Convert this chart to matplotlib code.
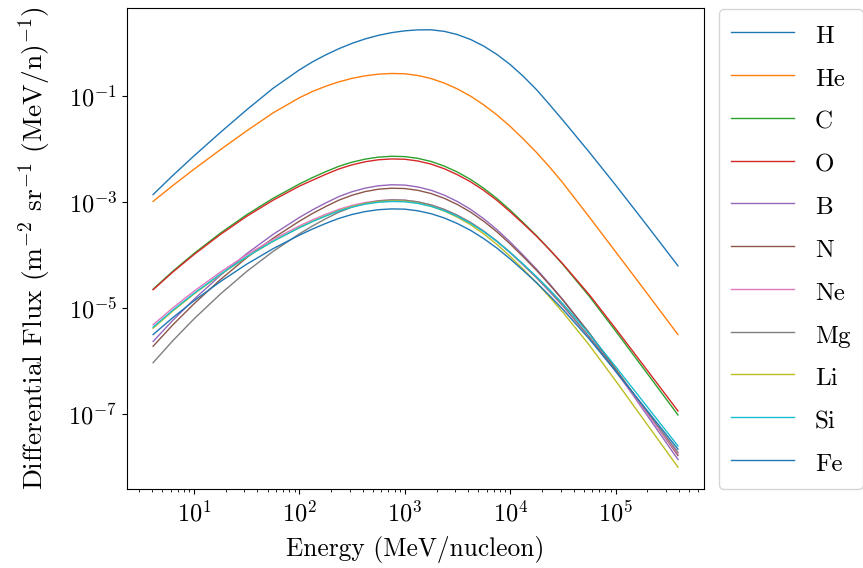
import numpy as np
import matplotlib
matplotlib.use("Agg")
import matplotlib.pyplot as plt
from matplotlib.ticker import FixedLocator, NullLocator, FuncFormatter

plt.rcParams["font.family"] = "serif"
plt.rcParams["font.serif"] = ["cmr10"]
plt.rcParams["mathtext.fontset"] = "cm"
plt.rcParams["axes.formatter.use_mathtext"] = True

# Kinetic energy grid (MeV/nucleon)
energy = [4.1, 6.31, 10, 17.8, 31.6, 56.2, 100, 133, 178, 237, 316, 422, 562, 750,
          1000, 1330, 1780, 2370, 3160, 4220, 5620, 7500, 1.0e4, 1.33e4, 1.78e4,
          2.37e4, 3.16e4, 5.62e4, 1.0e5, 2.0e5, 3.9e5]

# Differential flux, stored as decimal exponents (log10 of m^-2 sr^-1 (MeV/n)^-1)
log_H = [-2.86, -2.50, -2.133, -1.690, -1.264, -0.8585, -0.510, -0.360, -0.227, -0.111,
         -0.010, 0.074, 0.141, 0.192, 0.226, 0.244, 0.245, 0.216, 0.155, 0.062, -0.063,
         -0.221, -0.410, -0.631, -0.885, -1.168, -1.460, -2.061, -2.683, -3.452, -4.204]
log_He = [-2.99, -2.690, -2.384, -2.015, -1.661, -1.322, -1.036, -0.918, -0.818, -0.736,
          -0.670, -0.622, -0.591, -0.578, -0.584, -0.616, -0.674, -0.759, -0.870, -1.007,
          -1.171, -1.361, -1.576, -1.812, -2.069, -2.345, -2.641, -3.284, -3.940, -4.731, -5.500]
log_C = [-4.645, -4.306, -3.973, -3.589, -3.242, -2.933, -2.662, -2.541, -2.429, -2.328,
         -2.250, -2.192, -2.155, -2.139, -2.145, -2.178, -2.237, -2.324, -2.437, -2.577,
         -2.743, -2.937, -3.156, -3.390, -3.638, -3.902, -4.179, -4.778, -5.433, -6.237, -7.015]
log_O = [-4.655, -4.321, -3.993, -3.614, -3.272, -2.968, -2.702, -2.591, -2.479, -2.378,
         -2.300, -2.242, -2.205, -2.189, -2.195, -2.228, -2.287, -2.374, -2.487, -2.622,
         -2.783, -2.972, -3.186, -3.410, -3.648, -3.902, -4.169, -4.748, -5.388, -6.177, -6.940]
log_B = [-5.630, -5.231, -4.837, -4.385, -3.976, -3.612, -3.293, -3.150, -3.018, -2.899,
         -2.807, -2.739, -2.695, -2.676, -2.682, -2.717, -2.780, -2.872, -2.993, -3.141,
         -3.318, -3.524, -3.756, -4.005, -4.269, -4.549, -4.843, -5.480, -6.175, -7.029, -7.855]
log_N = [-5.720, -5.317, -4.921, -4.465, -4.052, -3.685, -3.363, -3.219, -3.086, -2.966,
         -2.873, -2.804, -2.760, -2.741, -2.747, -2.781, -2.842, -2.932, -3.049, -3.193,
         -3.366, -3.566, -3.792, -4.034, -4.291, -4.563, -4.850, -5.469, -6.146, -6.977, -7.780]
log_Ne = [-5.315, -4.997, -4.683, -4.323, -3.997, -3.707, -3.452, -3.338, -3.233, -3.139,
          -3.065, -3.011, -2.976, -2.961, -2.967, -2.999, -3.057, -3.142, -3.254, -3.391,
          -3.554, -3.745, -3.960, -4.190, -4.434, -4.693, -4.965, -5.554, -6.197, -6.987, -7.750]
log_Mg = [-6.030, -5.615, -5.206, -4.737, -4.312, -3.934, -3.602, -3.453, -3.316, -3.193,
          -3.097, -3.026, -2.981, -2.961, -2.967, -2.999, -3.057, -3.141, -3.252, -3.388,
          -3.551, -3.740, -3.953, -4.182, -4.425, -4.682, -4.953, -5.538, -6.176, -6.961, -7.720]
log_Li = [-5.380, -5.056, -4.736, -4.369, -4.037, -3.741, -3.482, -3.366, -3.259, -3.162,
          -3.087, -3.032, -2.996, -2.981, -2.987, -3.021, -3.082, -3.171, -3.288, -3.431,
          -3.603, -3.802, -4.028, -4.269, -4.525, -4.796, -5.081, -5.698, -6.372, -7.200, -8.000]
log_Si = [-5.360, -5.040, -4.724, -4.362, -4.034, -3.742, -3.486, -3.371, -3.265, -3.170,
          -3.096, -3.041, -3.006, -2.991, -2.997, -3.027, -3.084, -3.165, -3.273, -3.404,
          -3.562, -3.745, -3.952, -4.173, -4.409, -4.657, -4.920, -5.486, -6.105, -6.865, -7.600]
log_Fe = [-5.500, -5.180, -4.864, -4.502, -4.174, -3.882, -3.626, -3.511, -3.405, -3.310,
          -3.236, -3.181, -3.146, -3.131, -3.136, -3.167, -3.222, -3.302, -3.408, -3.537,
          -3.692, -3.872, -4.075, -4.293, -4.524, -4.769, -5.026, -5.583, -6.191, -6.938, -7.660]

species = ["H", "He", "C", "O", "B", "N", "Ne", "Mg", "Li", "Si", "Fe"]
series = [log_H, log_He, log_C, log_O, log_B, log_N, log_Ne, log_Mg, log_Li, log_Si, log_Fe]

y_ticks = [1e-7, 1e-5, 1e-3, 1e-1]


def power_label(v, _pos):
    return r"$10^{%d}$" % int(round(np.log10(v)))


fig = plt.figure(figsize=(8.63, 5.68), dpi=100)
ax = fig.add_axes([0.147, 0.139, 0.669, 0.847])

for name, vals in zip(species, series):
    ax.plot(energy, 10.0 ** np.asarray(vals), lw=1.0, label=name)

ax.set_xscale("log")
ax.set_yscale("log")
ax.yaxis.set_major_locator(FixedLocator(y_ticks))
ax.yaxis.set_minor_locator(NullLocator())
ax.xaxis.set_major_formatter(FuncFormatter(power_label))
ax.yaxis.set_major_formatter(FuncFormatter(power_label))

ax.set_xlabel("Energy (MeV/nucleon)", fontsize=18.3, labelpad=7)
ax.set_ylabel(r"Differential Flux (m$^{-2}$ sr$^{-1}$ (MeV/n)$^{-1}$)", fontsize=19.8,
              labelpad=11)
ax.tick_params(axis="both", which="major", labelsize=17.5)
ax.tick_params(axis="x", which="major", pad=5)

ax.legend(loc="upper left", bbox_to_anchor=(1.025, 0.998), fontsize=18,
          handlelength=2.5, handleheight=1.3, handletextpad=0.85, labelspacing=0.62,
          borderpad=0.5, borderaxespad=0.0)

fig.savefig("out.png", dpi=100)
